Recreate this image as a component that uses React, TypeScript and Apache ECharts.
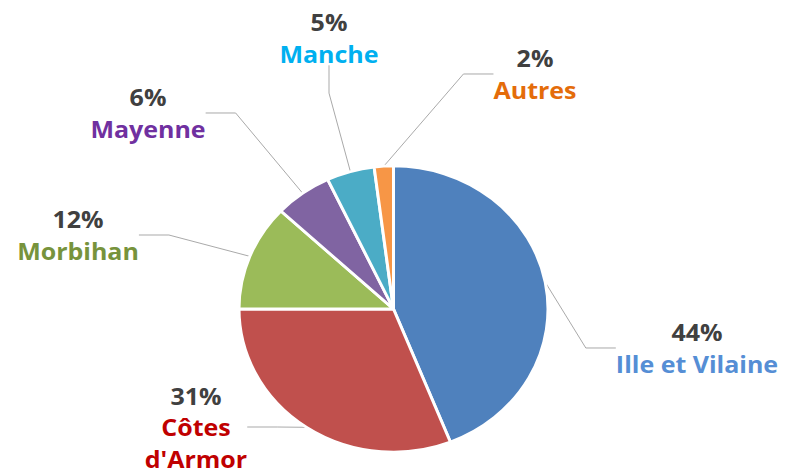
import React, { useEffect, useRef } from "react";
import * as echarts from "echarts";

const categories = ["Ille et Vilaine", "Côtes d'Armor", "Morbihan", "Mayenne", "Manche", "Autres"];
const labelTexts = ["Ille et Vilaine", "Côtes\nd'Armor", "Morbihan", "Mayenne", "Manche", "Autres"];
const values = [44, 31, 12, 6, 5, 2];

const sliceColors = ["#4F81BD", "#C0504D", "#9BBB59", "#8064A2", "#4BACC6", "#F79646"];
const nameColors = ["#558ED5", "#C00000", "#77933C", "#7030A0", "#00B0F0", "#E46C0A"];

// the reference is slightly squashed vertically
const SY = 0.926;
const W = 785;
const H = Math.round(475 / SY);
const labelPos: [number, number][] = [
  [697, 348],
  [196, 427],
  [78, 235],
  [148, 113],
  [329, 38],
  [535, 74],
];

export default function App() {
  const ref = useRef<HTMLDivElement>(null);
  useEffect(() => {
    if (!ref.current) return;
    const chart = echarts.init(ref.current, undefined, { renderer: "svg" });
    const base = { fontSize: 25, fontWeight: "bold", fontFamily: "Open Sans", lineHeight: 31.5 / SY };
    const rich: any = { p: { ...base, color: "#404040" } };
    nameColors.forEach((c, i) => {
      rich["n" + i] = { ...base, color: c };
    });
    chart.setOption({
      animation: false,
      backgroundColor: "#ffffff",
      series: [
        {
          type: "pie",
          center: [393.5, 309 / SY],
          radius: 154.5,
          startAngle: 90,
          clockwise: true,
          itemStyle: { borderColor: "#ffffff", borderWidth: 3 },
          data: categories.map((name, i) => ({
            name,
            value: values[i],
            itemStyle: { color: sliceColors[i] },
          })),
          label: {
            show: true,
            position: "outside",
            formatter: (params: any) =>
              `{p|${values[params.dataIndex]}%}\n{n${params.dataIndex}|${labelTexts[params.dataIndex]}}`,
            rich,
          },
          labelLine: {
            show: true,
            lineStyle: { color: "#A6A6A6", width: 1 },
          },
          labelLayout: (params: any) => {
            const p = labelPos[params.dataIndex];
            return { x: p[0], y: p[1] / SY, align: "center", verticalAlign: "middle", hideOverlap: false };
          },
        },
      ],
    });
    return () => chart.dispose();
  }, []);
  return (
    <div style={{ position: "fixed", left: 0, top: 0, width: W, height: 475, overflow: "hidden", background: "#fff" }}>
      <div
        ref={ref}
        style={{ width: W, height: H, transform: `scaleY(${SY})`, transformOrigin: "0 0" }}
      />
    </div>
  );
}
